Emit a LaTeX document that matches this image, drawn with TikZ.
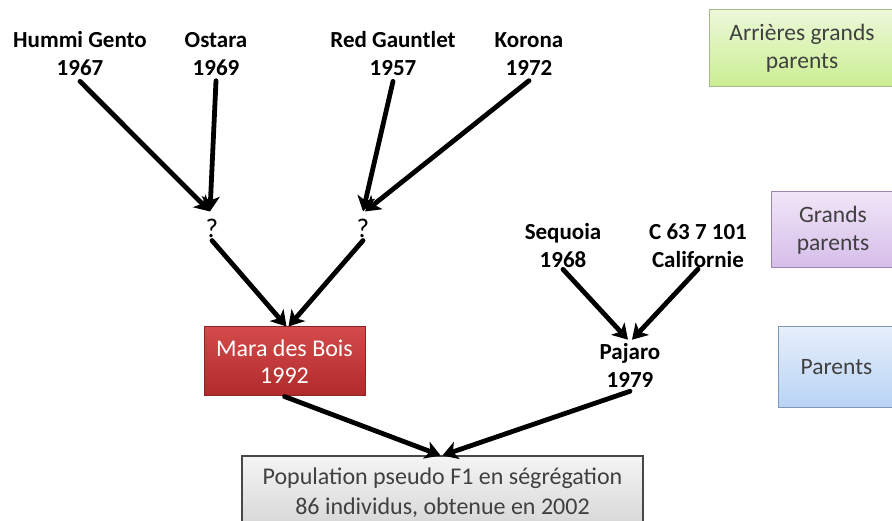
\documentclass[tikz,border=0pt]{standalone}
\usepackage{fontspec}
\setmainfont{Carlito}
\usetikzlibrary{arrows.meta}

\definecolor{boxtext}{HTML}{404040}
\definecolor{greenTop}{HTML}{ECF8D8}
\definecolor{greenBot}{HTML}{CBEE92}
\definecolor{greenLine}{HTML}{A6BC86}
\definecolor{violetTop}{HTML}{F0E6F7}
\definecolor{violetBot}{HTML}{D6BDEA}
\definecolor{violetLine}{HTML}{9C86AE}
\definecolor{blueTop}{HTML}{E6EFFB}
\definecolor{blueBot}{HTML}{B9D3F5}
\definecolor{blueLine}{HTML}{8098B8}
\definecolor{redTop}{HTML}{D44A4A}
\definecolor{redBot}{HTML}{B02A2C}
\definecolor{redLine}{HTML}{8E2224}
\definecolor{greyTop}{HTML}{F4F4F4}
\definecolor{greyBot}{HTML}{D6D6D6}

\tikzset{
  cultivar/.style={font=\bfseries\fontsize{23}{28}\selectfont, align=center, inner sep=1pt},
  unknown/.style={font=\fontsize{27}{28}\selectfont, inner sep=1pt},
  legend/.style={draw=#1, line width=1pt, align=center, text=boxtext,
    font=\fontsize{23.5}{28}\selectfont, inner sep=0pt},
  link/.style={line width=4.8pt, line cap=round, black,
    -{Stealth[length=15pt,width=18pt,inset=4pt]}},
}

\begin{document}
\begin{tikzpicture}[x=1pt, y=-1pt]
\clip (0,0) rectangle (892,521);
\fill[white] (0,0) rectangle (892,521);

% generation legend on the right
\node[legend=greenLine, top color=greenTop, bottom color=greenBot,
  minimum width=186pt, minimum height=77pt] (lgA) at (802,48.5) {Arrières grands\\parents};
\node[legend=violetLine, top color=violetTop, bottom color=violetBot,
  minimum width=124pt, minimum height=76pt] (lgG) at (833,230) {Grands\\parents};
\node[legend=blueLine, top color=blueTop, bottom color=blueBot,
  minimum width=117pt, minimum height=80pt] (lgP) at (836.5,367) {Parents};

% great-grandparents
\node[cultivar] (hg) at (80,54)  {Hummi Gento\\1967};
\node[cultivar] (os) at (216,54) {Ostara\\1969};
\node[cultivar] (rg) at (393,54) {Red Gauntlet\\1957};
\node[cultivar] (ko) at (529,54) {Korona\\1972};

% unknown grandparents
\node[unknown] (q1) at (212,228) {?};
\node[unknown] (q2) at (363,228) {?};

% known grandparents
\node[cultivar] (sq) at (563,246) {Sequoia\\1968};
\node[cultivar] (ca) at (698,246) {C 63 7 101\\Californie};

% parents
\node[draw=redLine, line width=1pt, top color=redTop, bottom color=redBot,
  minimum width=161pt, minimum height=69pt, align=center, text=white,
  font=\fontsize{24}{27}\selectfont, inner sep=0pt] (mb) at (284.5,361.5) {Mara des Bois\\1992};
\node[cultivar] (pj) at (630,365) {Pajaro\\1979};

% offspring
\node[draw=black!72, line width=1.2pt, top color=greyTop, bottom color=greyBot,
  minimum width=401pt, minimum height=74pt, align=center, text=boxtext,
  font=\fontsize{24}{30}\selectfont, inner sep=0pt] (pop) at (442.5,493)
  {Population pseudo F1 en ségrégation\\86 individus, obtenue en 2002};

% crosses
\draw[link] ([yshift=-4pt]hg.south) -- ([xshift=-2pt,yshift=6pt]q1.north);
\draw[link] ([yshift=-4pt]os.south) -- ([xshift=-2pt,yshift=6pt]q1.north);
\draw[link] ([yshift=-4pt]rg.south) -- ([yshift=6pt]q2.north);
\draw[link] ([yshift=-4pt]ko.south) -- ([xshift=2pt,yshift=6pt]q2.north);
\draw[link] ([yshift=-2pt]q1.south) -- ([xshift=2pt]mb.north);
\draw[link] ([yshift=-2pt]q2.south) -- ([xshift=4pt]mb.north);
\draw[link] (sq.south) -- ([xshift=-2pt,yshift=2pt]pj.north);
\draw[link] (ca.south) -- ([xshift=2pt,yshift=2pt]pj.north);
\draw[link] (mb.south) -- ([xshift=-2pt]pop.north);
\draw[link] ([yshift=-3pt]pj.south) -- ([xshift=0pt]pop.north);
\end{tikzpicture}
\end{document}
